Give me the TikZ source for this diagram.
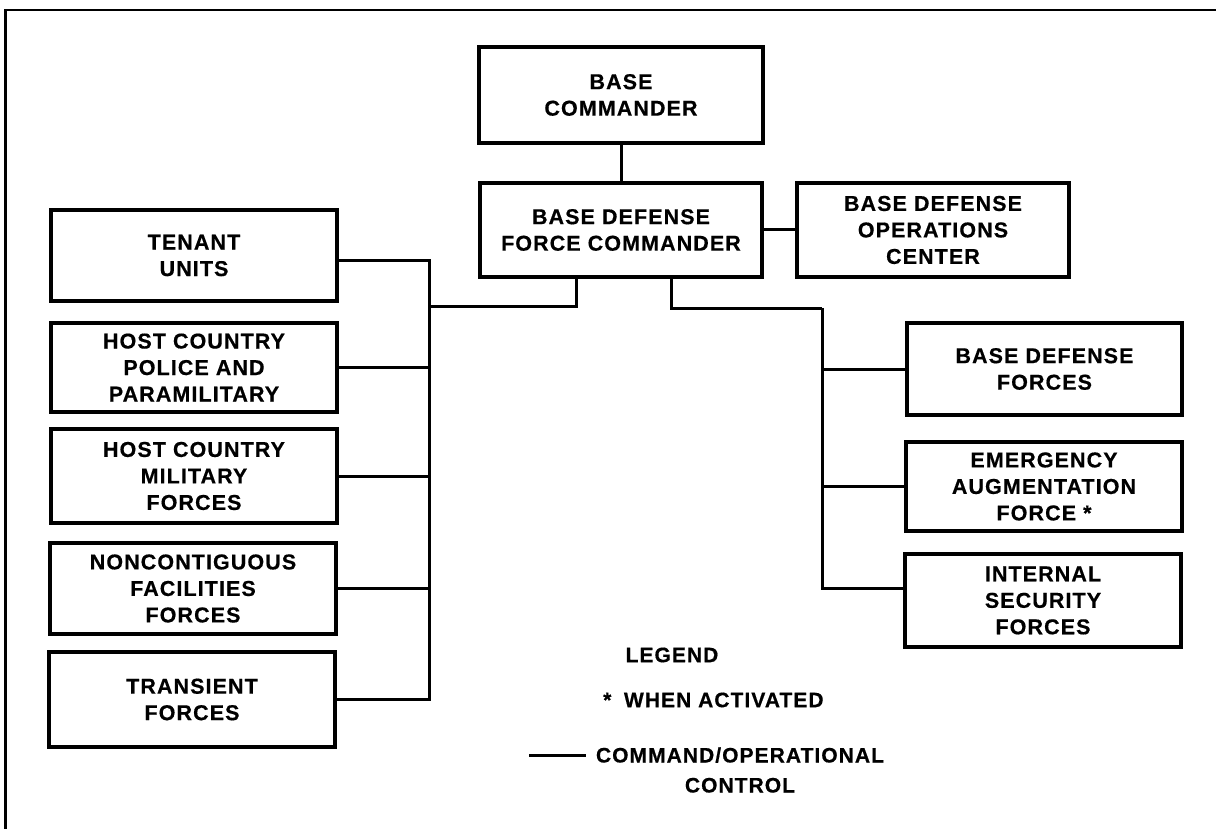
\documentclass[tikz,border=0pt]{standalone}
\usepackage{fontspec}
\setmainfont{Liberation Sans}[LetterSpace=5, BoldFeatures={FakeBold=0.5}]
\tikzset{
  orgbox/.style={draw, line width=3.2pt, align=center, inner sep=0pt,
    font=\bfseries\fontsize{21.5}{26.5}\selectfont},
  conn/.style={line width=3pt},
  legtext/.style={align=center, inner sep=0pt, font=\bfseries\fontsize{21}{30}\selectfont}
}
\begin{document}
\begin{tikzpicture}[x=1pt,y=-1pt]
\useasboundingbox (0,0) rectangle (1216,829);
% frame
\coordinate (fbl) at (5.5,829);
\coordinate (ftl) at (5.5,10);
\coordinate (ftr) at (1216,10);
\draw[line width=2.4pt] (fbl) -- (ftl) -- (ftr);

% boxes
\node[orgbox, minimum width=284, minimum height=96] (bc) at (621,95) {BASE\\COMMANDER};
\node[orgbox, minimum width=282, minimum height=94] (bdfc) at (621,230) {BASE DEFENSE\\FORCE COMMANDER};
\node[orgbox, minimum width=272, minimum height=94] (bdoc) at (933,230) {BASE DEFENSE\\OPERATIONS\\CENTER};

\node[orgbox, minimum width=286, minimum height=91] (tenant) at (194,255.5) {TENANT\\UNITS};
\node[orgbox, minimum width=286, minimum height=89] (hcpp) at (194,367.5) {HOST COUNTRY\\POLICE AND\\PARAMILITARY};
\node[orgbox, minimum width=286, minimum height=94] (hcmf) at (194,476) {HOST COUNTRY\\MILITARY\\FORCES};
\node[orgbox, minimum width=286, minimum height=91] (nff) at (193,588.5) {NONCONTIGUOUS\\FACILITIES\\FORCES};
\node[orgbox, minimum width=286, minimum height=95] (tf) at (192,699.5) {TRANSIENT\\FORCES};

\node[orgbox, minimum width=275, minimum height=92] (bdf) at (1044.5,369) {BASE DEFENSE\\FORCES};
\node[orgbox, minimum width=276, minimum height=89] (eaf) at (1044,486.5) {EMERGENCY\\AUGMENTATION\\FORCE *};
\node[orgbox, minimum width=276, minimum height=93] (isf) at (1043,600.5) {INTERNAL\\SECURITY\\FORCES};

% connectors
\draw[conn] (bc.south) -- (bdfc.north);
\draw[conn] (bdfc.east) -- (bdoc.west);

\coordinate (ltop) at (429,306);
\coordinate (rtop) at (822,308);
\draw[conn] ([xshift=-45pt]bdfc.south) |- (ltop);
\draw[conn] ([xshift=50pt]bdfc.south) |- (rtop);

% left bus
\draw[conn] ([yshift=-5pt]tenant.east) -| (ltop |- tf.east) -- (tf.east);
\draw[conn] (hcpp.east) -- (hcpp.east -| ltop);
\draw[conn] (hcmf.east) -- (hcmf.east -| ltop);
\draw[conn] (nff.east) -- (nff.east -| ltop);

% right bus
\draw[conn] (rtop) |- ([yshift=12pt]isf.west);
\draw[conn] (bdf.west) -- (bdf.west -| rtop);
\draw[conn] (eaf.west) -- (eaf.west -| rtop);

% legend
\node[legtext] (leg) at (672,655) {LEGEND};
\node[legtext, anchor=west] (act) at (603,700) {*\hspace{0.6em}WHEN ACTIVATED};
\coordinate (la) at (529,755);
\coordinate (lb) at (586,755);
\draw[conn] (la) -- (lb);
\node[legtext] (cmd) at (740,770) {COMMAND/OPERATIONAL\\CONTROL};
\end{tikzpicture}
\end{document}
